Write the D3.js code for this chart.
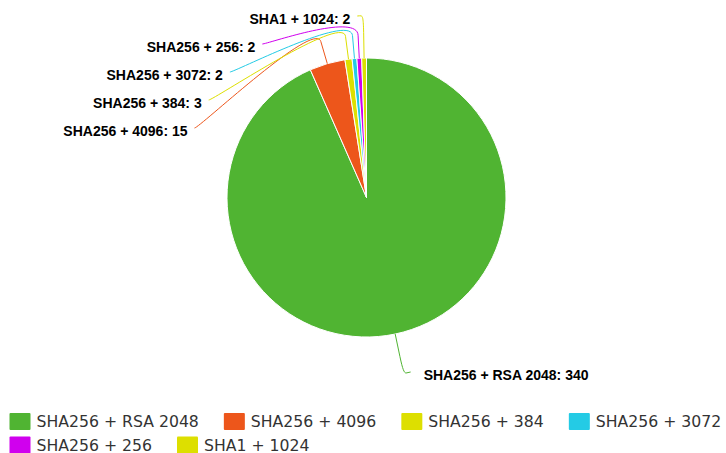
<!DOCTYPE html>
<html>
<head>
<meta charset="utf-8">
<script src="https://cdn.jsdelivr.net/npm/d3@7"></script>
<style>
  html, body { margin: 0; padding: 0; background: #fff; }
  svg { display: block; }
</style>
</head>
<body>
<svg id="chart" width="726" height="453"></svg>
<script>
// ---- data ----
const categories = ["SHA256 + RSA 2048", "SHA256 + 4096", "SHA256 + 384", "SHA256 + 3072", "SHA256 + 256", "SHA1 + 1024"];
const values = [340, 15, 3, 2, 2, 2];
const colors = ["#50B432", "#ED561B", "#DDDF00", "#24CBE5", "#D000EE", "#DDDF00"];

// ---- layout ----
const W = 726, H = 453;
const cx = 366.5, cy = 197.5, r = 139.5;
const labelR = 185.5;            // radius of label circle
const breakR = r + (labelR - r) / 2;
const labelTop = 16, labelBottom = 372, labelSpacing = 28;

const svg = d3.select("#chart");
const data = categories.map((c, i) => ({ name: c, value: values[i], color: colors[i] }));

const pie = d3.pie().sort(null).value(d => d.value).startAngle(0).endAngle(2 * Math.PI);
const arcs = pie(data);
const arc = d3.arc().innerRadius(0).outerRadius(r);

const g = svg.append("g").attr("transform", `translate(${cx},${cy})`);
g.selectAll("path.slice").data(arcs).enter().append("path")
  .attr("class", "slice")
  .attr("d", arc)
  .attr("fill", d => d.data.color)
  .attr("stroke", "#fff")
  .attr("stroke-width", 1)
  .attr("stroke-linejoin", "round");

// ---- label layout (Highcharts-like) ----
const labels = arcs.map(a => {
  const ang = (a.startAngle + a.endAngle) / 2;
  const s = Math.sin(ang), c = Math.cos(ang);
  const side = s >= 0 ? 1 : -1;
  const nat = { x: cx + labelR * s, y: cy - labelR * c };
  return {
    a, ang, side, nat,
    touch: { x: cx + r * s, y: cy - r * c },
    brk: { x: cx + breakR * s, y: cy - breakR * c },
    text: `${a.data.name}: ${a.data.value}`,
    color: a.data.color
  };
});

function distribute(list) {
  list.sort((p, q) => p.nat.y - q.nat.y);
  let prev = -Infinity;
  list.forEach(l => {
    const clamped = Math.min(Math.max(l.nat.y, labelTop), labelBottom);
    l.y = Math.max(clamped, prev + labelSpacing);
    l.moved = Math.abs(l.y - clamped) > 0.5;
    prev = l.y;
    if (l.moved) {
      const dy = l.y - cy;
      l.x = cx + l.side * Math.sqrt(Math.max(labelR * labelR - dy * dy, 0));
    } else {
      l.x = l.nat.x + l.side * 6;
    }
  });
}
distribute(labels.filter(l => l.side < 0));
distribute(labels.filter(l => l.side > 0));

// connectors (soft, fixed offset)
svg.append("g").selectAll("path.conn").data(labels).enter().append("path")
  .attr("class", "conn")
  .attr("fill", "none")
  .attr("stroke", d => d.color)
  .attr("stroke-width", 1)
  .attr("d", d => {
    const p = d3.path();
    p.moveTo(d.x, d.y);
    p.bezierCurveTo(d.x + (d.side < 0 ? 5 : -5), d.y,
      2 * d.brk.x - d.touch.x, 2 * d.brk.y - d.touch.y,
      d.brk.x, d.brk.y);
    p.lineTo(d.touch.x, d.touch.y);
    return p.toString();
  });

svg.append("g").selectAll("text.lbl").data(labels).enter().append("text")
  .attr("class", "lbl")
  .attr("x", d => d.side < 0 ? d.x - 7 : d.x + 13)
  .attr("y", d => d.y + 7.5)
  .attr("text-anchor", d => d.side < 0 ? "end" : "start")
  .attr("font-family", "'Liberation Sans', Arial, sans-serif")
  .attr("font-weight", "bold")
  .attr("font-size", "14px")
  .attr("fill", "#000")
  .text(d => d.text);

// ---- legend ----
const legend = svg.append("g");
const symW = 21, symH = 17, symGap = 6, itemDist = 25, legX = 9.5, rowH = 23.5;
let lx = legX, ly = 413;
data.forEach(d => {
  const item = legend.append("g");
  const t = item.append("text")
    .attr("font-family", "'DejaVu Sans', Verdana, sans-serif")
    .attr("font-size", "15.7px")
    .attr("fill", "#333")
    .text(d.name);
  const tw = t.node().getComputedTextLength();
  const iw = symW + symGap + tw;
  if (lx + iw > W && lx > legX) { lx = legX; ly += rowH; }
  item.append("rect")
    .attr("x", lx).attr("y", ly)
    .attr("width", symW).attr("height", symH)
    .attr("rx", 1)
    .attr("fill", d.color);
  t.attr("x", lx + symW + symGap).attr("y", ly + 14);
  lx += iw + itemDist;
});
</script>
</body>
</html>
